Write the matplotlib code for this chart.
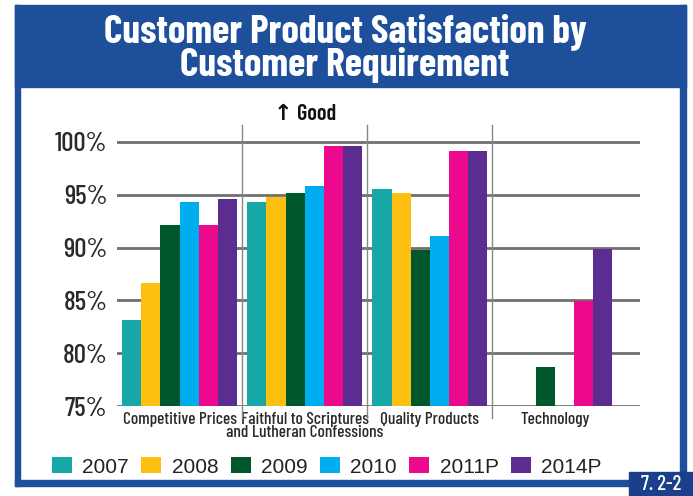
import matplotlib
matplotlib.use("Agg")
import matplotlib.pyplot as plt
import numpy as np
from matplotlib import font_manager
from matplotlib.patches import Rectangle

# dati
categorie = ["Competitive Prices", "Faithful to Scriptures\nand Lutheran Confessions",
             "Quality Products", "Technology"]
anni = ["2007", "2008", "2009", "2010", "2011P", "2014P"]
v2007 = [83.1, 94.3, 95.5, np.nan]
v2008 = [86.6, 94.8, 95.2, np.nan]
v2009 = [92.1, 95.2, 89.8, 78.7]
v2010 = [94.3, 95.8, 91.1, np.nan]
v2011p = [92.1, 99.6, 99.1, 84.9]
v2014p = [94.6, 99.6, 99.1, 89.9]
serie = [v2007, v2008, v2009, v2010, v2011p, v2014p]
colori = ["#17a7a7", "#fdc010", "#00572b", "#00adef", "#ec098d", "#5c2d91"]
y_ticks = [75, 80, 85, 90, 95, 100]

# font stretto se c'e', altrimenti DejaVu piu' piccolo
nomi = {f.name for f in font_manager.fontManager.ttflist}
if "Barlow Condensed" in nomi:
    stretto, k = "Barlow Condensed", 1.0
else:
    stretto, k = "DejaVu Sans", 0.75
fam = [stretto, "DejaVu Sans"]
plt.rcParams["font.family"] = fam

W, H = 693, 496
fig = plt.figure(figsize=(W / 100, H / 100), dpi=100)
fig.patch.set_facecolor("white")

blu = "#1d4f9b"
def rett(x, y, w, h, col, z=0):
    fig.patches.append(Rectangle((x / W, 1 - (y + h) / H), w / W, h / H,
                                 transform=fig.transFigure, color=col, zorder=z))

# cornice blu
rett(15, 5, 671, 82, blu)
rett(15, 5, 5, 481, blu)
rett(680, 5, 6, 481, blu)
rett(15, 480, 671, 6, blu)
rett(629, 472, 64, 24, "#1b3f8a", 1)
fig.text(661 / W, 1 - 484 / H, "7. 2-2", color="white", fontsize=15 * k, ha="center",
         va="center", fontweight="medium")

fig.text(345 / W, 1 - 32 / H, "Customer Product Satisfaction by", color="white",
         fontsize=28.5 * k, fontweight="bold", ha="center", va="center")
fig.text(345 / W, 1 - 65 / H, "Customer Requirement", color="white",
         fontsize=28.5 * k, fontweight="bold", ha="center", va="center")

ax = fig.add_axes([117 / W, 1 - 406 / H, (640 - 117) / W, (406 - 125) / H])
ax.set_facecolor("none")
x = np.arange(len(categorie))
larg = 0.153
for i, (vals, col, anno) in enumerate(zip(serie, colori, anni)):
    v = np.array(vals)
    ax.bar(x + (i - 2.5) * larg, v - 75, bottom=75, width=larg, color=col,
           label=anno, zorder=3)

ax.set_ylim(75, 101.6)
ax.set_xlim(-0.5, 3.68)
for t in y_ticks:
    ax.axhline(t, color="#707070", lw=2, zorder=2)
for d in [0.5, 1.5, 2.5]:
    ax.plot([d, d], [73.9, 101.6], color="#888888", lw=1, clip_on=False, zorder=2)

ax.set_yticks(y_ticks)
ax.set_yticklabels([f"{t}%" for t in y_ticks], fontsize=19.5 * k, color="#2a2a2a",
                   fontweight="medium")
ax.set_xticks(x)
ax.set_xticklabels(categorie, fontsize=12.5 * k, color="#2a2a2a", linespacing=0.9,
                   fontweight="medium")
ax.tick_params(length=0, pad=7)
ax.tick_params(axis="x", pad=4)
for s in ax.spines.values():
    s.set_visible(False)

ax.text(1.0, 101.7, "\u2191 Good", fontsize=16 * k, ha="center", va="bottom",
        color="#111111", fontweight="semibold")

fig.legend(loc="center", bbox_to_anchor=(327 / W, 1 - 467 / H), ncol=6, frameon=False,
           prop={"family": ["Liberation Sans", "DejaVu Sans"], "size": 15},
           handlelength=0.95, handleheight=0.8, handletextpad=0.5, columnspacing=0.6,
           labelcolor="#222222")

fig.savefig("out.png", dpi=100)
